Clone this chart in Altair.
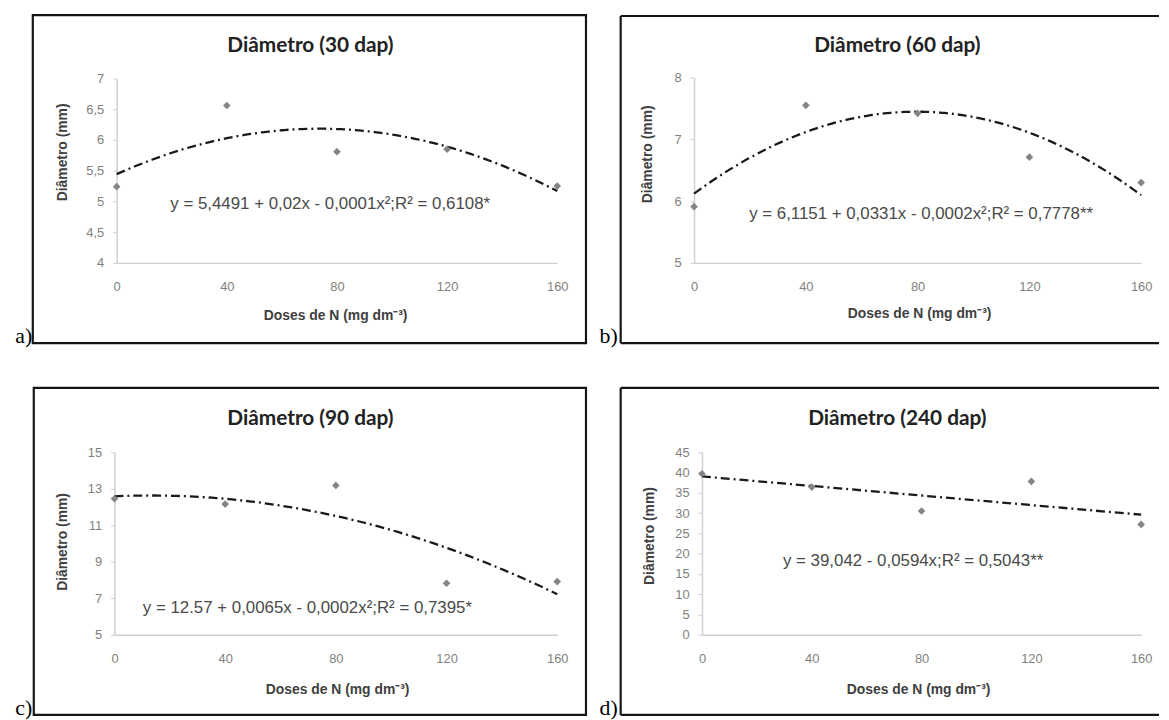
import altair as alt
import pandas as pd

# ---------------- data ----------------
doses = [0, 40, 80, 120, 160]
diam_30 = [5.24, 6.56, 5.81, 5.85, 5.25]
diam_60 = [5.91, 7.55, 7.42, 6.71, 6.30]
diam_90 = [12.45, 12.16, 13.18, 7.82, 7.91]
diam_240 = [39.7, 36.4, 30.5, 37.8, 27.2]

series = [diam_30, diam_60, diam_90, diam_240]
titles = ["Diâmetro (30 dap)", "Diâmetro (60 dap)", "Diâmetro (90 dap)", "Diâmetro (240 dap)"]
equations = [
    "y = 5,4491 + 0,02x - 0,0001x²;R² = 0,6108*",
    "y = 6,1151 + 0,0331x - 0,0002x²;R² = 0,7778**",
    "y = 12.57 + 0,0065x - 0,0002x²;R² = 0,7395*",
    "y = 39,042 - 0,0594x;R² = 0,5043**",
]
letters = ["a)", "b)", "c)", "d)"]
y_domains = [[4, 7], [5, 8], [5, 15], [0, 45]]
y_ticks = [
    [4, 4.5, 5, 5.5, 6, 6.5, 7],
    [5, 6, 7, 8],
    [5, 7, 9, 11, 13, 15],
    [0, 5, 10, 15, 20, 25, 30, 35, 40, 45],
]
x_ticks = [0, 40, 80, 120, 160]
fit_method = ["quad", "quad", "quad", "linear"]
x_title = "Doses de N (mg dm⁻³)"
y_title = "Diâmetro (mm)"

# ---------------- layout (pixels inside each panel view) ----------------
layouts = [
    dict(w=583, h=357, box=("rect", 25, 583, 4, 335), tx=305, ty=35,
         xr=[109.6, 554], yr=[254, 68], xoff=-103, yoff=-109.6,
         xtx=330, xty=53, ytx=-54.6, yty=142, ex=325, ey=195, lx=24.5, ly=335),
    dict(w=578, h=357, box=("open", 35, 578, 5, 335), tx=314, ty=35,
         xr=[109, 560], yr=[254, 67], xoff=-103, yoff=-109,
         xtx=336, xty=51, ytx=-47, yty=144, ex=338, ey=205, lx=32, ly=335),
    dict(w=583, h=355, box=("rect", 26, 583, 23, 353), tx=305, ty=55,
         xr=[107.4, 554], yr=[272, 88], xoff=-83, yoff=-107.4,
         xtx=332, xty=55, ytx=-52.4, yty=178, ex=302, ey=245, lx=24.5, ly=353),
    dict(w=578, h=355, box=("open", 35, 578, 23, 353), tx=314, ty=55,
         xr=[117, 560], yr=[272, 88], xoff=-83, yoff=-117,
         xtx=335, xty=55, ytx=-53, yty=172, ex=330, ey=198, lx=32, ly=353),
]

AXIS_GRAY = "#d0d0d0"
LABEL_GRAY = "#7f7f7f"
one = alt.Data(values=[{"k": 1}])


def panel(i):
    L = layouts[i]
    df = pd.DataFrame({"dose": doses, "diam": series[i]})
    xs = alt.Scale(domain=[0, 160], range=L["xr"], nice=False, zero=False)
    ys = alt.Scale(domain=y_domains[i], range=L["yr"], nice=False, zero=False)
    xax = alt.Axis(
        orient="bottom", offset=L["xoff"], values=x_ticks, grid=False,
        ticks=False, tickSize=0, domainColor=AXIS_GRAY, domainWidth=1.5,
        labelColor=LABEL_GRAY, labelFont="Liberation Sans", labelFontSize=13,
        labelPadding=18, labelFlush=False, labelOverlap=False,
        title=x_title, titleX=L["xtx"], titleY=L["xty"], titleAlign="center",
        titleBaseline="middle", titleFont="Liberation Sans", titleFontSize=14,
        titleFontWeight="bold", titleColor="#404040",
    )
    yax = alt.Axis(
        orient="left", offset=L["yoff"], values=y_ticks[i], grid=False,
        ticks=True, tickSize=4, tickColor=AXIS_GRAY, domainColor=AXIS_GRAY,
        domainWidth=1.5, labelColor=LABEL_GRAY, labelFont="Liberation Sans",
        labelFontSize=13, labelPadding=9, labelOverlap=False, labelFlush=False,
        labelExpr="replace(format(datum.value, ''), '.', ',')",
        title=y_title, titleX=L["ytx"], titleY=L["yty"], titleAngle=270,
        titleAlign="center", titleBaseline="middle", titleFont="Liberation Sans",
        titleFontSize=14, titleFontWeight="bold", titleColor="#404040",
    )
    enc = dict(x=alt.X("dose:Q", scale=xs, axis=xax), y=alt.Y("diam:Q", scale=ys, axis=yax))

    fit = alt.Chart(df).transform_regression(
        "dose", "diam", method=fit_method[i], extent=[0, 160]
    ).mark_line(color="#1a1a1a", strokeWidth=2.3, strokeDash=[9, 4, 2, 4]).encode(**enc)
    pts = alt.Chart(df).mark_point(
        shape="diamond", filled=True, size=60, color="#858585", opacity=1
    ).encode(**enc)

    title_t = alt.Chart(one).mark_text(
        text=titles[i], font="Lato", fontSize=21, fontWeight="bold",
        color="#222222", align="center", baseline="middle",
    ).encode(x=alt.value(L["tx"]), y=alt.value(L["ty"]))
    eq_t = alt.Chart(one).mark_text(
        text=equations[i], font="Liberation Sans", fontSize=17,
        color="#4a4a4a", align="center", baseline="middle",
    ).encode(x=alt.value(L["ex"]), y=alt.value(L["ey"]))
    let_t = alt.Chart(one).mark_text(
        text=letters[i], font="Liberation Serif", fontSize=22,
        color="#000000", align="right", baseline="alphabetic",
    ).encode(x=alt.value(L["lx"]), y=alt.value(L["ly"]))

    kind, bx1, bx2, by1, by2 = L["box"]
    layers = []
    if kind == "rect":
        layers.append(alt.Chart(one).mark_rect(
            fill="transparent", stroke="#151515", strokeWidth=2.2
        ).encode(x=alt.value(bx1), x2=alt.value(bx2), y=alt.value(by1), y2=alt.value(by2)))
    else:
        rule = dict(color="#151515", strokeWidth=2.2)
        layers.append(alt.Chart(one).mark_rule(**rule).encode(
            x=alt.value(bx1), x2=alt.value(bx2), y=alt.value(by1)))
        layers.append(alt.Chart(one).mark_rule(**rule).encode(
            x=alt.value(bx1), x2=alt.value(bx2), y=alt.value(by2)))
        layers.append(alt.Chart(one).mark_rule(**rule).encode(
            x=alt.value(bx1), y=alt.value(by1), y2=alt.value(by2)))

    return alt.layer(fit, pts, title_t, eq_t, let_t, *layers).properties(
        width=L["w"], height=L["h"]
    )


chart = alt.concat(
    panel(0), panel(1), panel(2), panel(3),
    columns=2, spacing=0, bounds="flush",
).resolve_scale(
    x="independent", y="independent"
).properties(
    padding={"left": 0, "top": 0, "right": 0, "bottom": 0}, background="white"
).configure_view(strokeWidth=0)

chart.save("out.html", embed_options={"renderer": "svg", "actions": False})
